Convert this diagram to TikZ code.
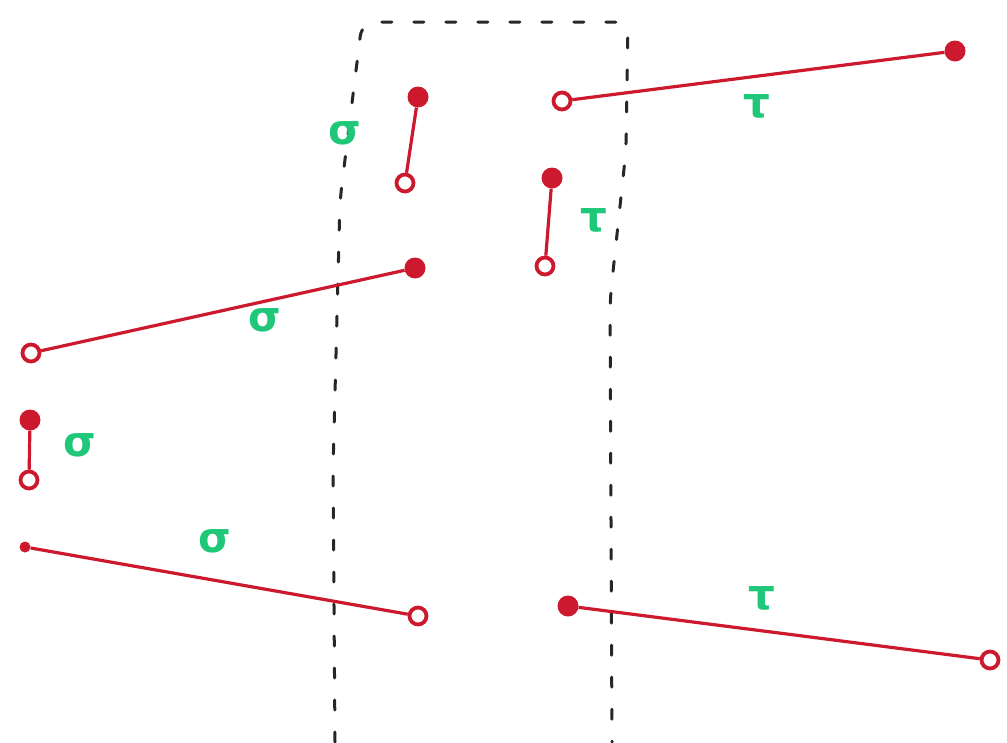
\documentclass[tikz,border=0pt]{standalone}
\usepackage{fontspec}
\newfontfamily\gkfont{DejaVu Sans}
\begin{document}
\begin{tikzpicture}[x=1pt,y=-1pt,
  red0/.style={draw=redc,line width=3.2pt},
  fdot/.style={circle,fill=redc,inner sep=0pt,minimum size=21pt},
  sdot/.style={circle,fill=redc,inner sep=0pt,minimum size=11pt},
  odot/.style={circle,draw=redc,line width=3.8pt,fill=white,inner sep=0pt,minimum size=17pt},
  lab/.style={text=greenc,font=\gkfont\bfseries\fontsize{42}{42}\selectfont,inner sep=0pt},
  wall/.style={draw=black!85,line width=3pt,dash pattern=on 10pt off 22pt,line cap=round,rounded corners=14pt}]
\definecolor{redc}{RGB}{205,25,45}
\definecolor{greenc}{RGB}{30,200,120}
\useasboundingbox[fill=white] (0,0) rectangle (1007,742);
% dashed wall
\coordinate (wa) at (335,742);
\coordinate (wb) at (333,470);
\coordinate (wc) at (340,200);
\coordinate (wd) at (362,22);
\coordinate (we) at (628,22);
\coordinate (wf) at (626,150);
\coordinate (wg) at (610,300);
\coordinate (wh) at (612,742);
\draw[wall] (wa) -- (wb) -- (wc) -- (wd) -- (we) -- (wf) -- (wg) -- (wh);
% segment 1
\node[fdot] (a1) at (418,97) {};
\node[odot] (b1) at (405,183) {};
\draw[red0] (a1) -- (b1);
\node[lab] (l1) at (345,133) {σ};
% segment 2
\node[odot] (b2) at (562,101) {};
\node[fdot] (a2) at (955,51) {};
\draw[red0] (b2) -- (a2);
\node[lab] (l2) at (757,106) {τ};
% segment 3
\node[fdot] (a3) at (552,178) {};
\node[odot] (b3) at (545,266) {};
\draw[red0] (a3) -- (b3);
\node[lab] (l3) at (594,220) {τ};
% segment 4
\node[fdot] (a4) at (415,268) {};
\node[odot] (b4) at (31,353) {};
\draw[red0] (a4) -- (b4);
\node[lab] (l4) at (265,320) {σ};
% segment 5
\node[fdot] (a5) at (30,420) {};
\node[odot] (b5) at (29,480) {};
\draw[red0] (a5) -- (b5);
\node[lab] (l5) at (80,445) {σ};
% segment 6
\node[sdot] (a6) at (25,547) {};
\node[odot] (b6) at (418,616) {};
\draw[red0] (a6) -- (b6);
\node[lab] (l6) at (215,541) {σ};
% segment 7
\node[fdot] (a7) at (568,606) {};
\node[odot] (b7) at (990,660) {};
\draw[red0] (a7) -- (b7);
\node[lab] (l7) at (762,598) {τ};
\end{tikzpicture}
\end{document}
